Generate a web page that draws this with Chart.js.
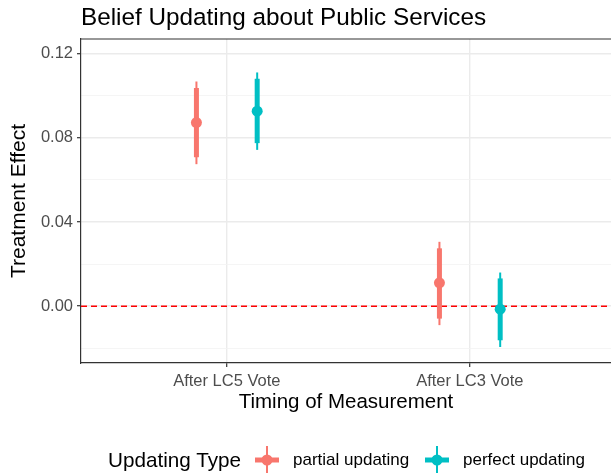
<!DOCTYPE html>
<html>
<head>
<meta charset="utf-8">
<script src="https://cdn.jsdelivr.net/npm/chart.js@4.4.1/dist/chart.umd.min.js"></script>
<style>
  body { margin: 0; background: #fff; }
  #wrap { position: relative; width: 611px; height: 473px; font-family: "Liberation Sans", Arial, sans-serif; }
  #chart { position: absolute; left: 0; top: 0; }
  .lg { position: absolute; line-height: 26px; top: 447px; white-space: nowrap; color: #000; }
  .key { position: absolute; top: 445px; }
</style>
</head>
<body>
<div id="wrap">
  <canvas id="chart" width="611" height="473"></canvas>
  <span class="lg" style="left:108px;font-size:20.7px">Updating Type</span>
  <canvas class="key" id="key0" width="30" height="30" style="left:252px"></canvas>
  <span class="lg" style="left:293px;font-size:17px">partial updating</span>
  <canvas class="key" id="key1" width="30" height="30" style="left:422px"></canvas>
  <span class="lg" style="left:463px;font-size:17px">perfect updating</span>
</div>
<script>
// data
const categories = ['After LC5 Vote', 'After LC3 Vote'];
const groups = ['partial updating', 'perfect updating'];
const groupColors = ['#F8766D', '#00BFC4'];

const partialEst  = [0.0873, 0.0111];
const partialLo90 = [0.0708, -0.0059];
const partialHi90 = [0.1037, 0.0275];
const partialLo95 = [0.0675, -0.0090];
const partialHi95 = [0.1068, 0.0306];

const perfectEst  = [0.0927, -0.0014];
const perfectLo90 = [0.0775, -0.0162];
const perfectHi90 = [0.1081, 0.0132];
const perfectLo95 = [0.0743, -0.0194];
const perfectHi95 = [0.1111, 0.0160];

const yTicks = [-0.02, 0.00, 0.02, 0.04, 0.06, 0.08, 0.10, 0.12];

const DODGE = 0.125;
const FONT = '"Liberation Sans", Arial, sans-serif';

const series = [
  { est: partialEst, lo90: partialLo90, hi90: partialHi90, lo95: partialLo95, hi95: partialHi95, shift: -DODGE },
  { est: perfectEst, lo90: perfectLo90, hi90: perfectHi90, lo95: perfectLo95, hi95: perfectHi95, shift: DODGE }
];

const isMajor = v => Math.round(v * 100) % 4 === 0;

// zero line, interval bars, panel top edge and plot title
const rangePlugin = {
  id: 'ranges',
  beforeDatasetsDraw(chart) {
    const { ctx, chartArea, scales: { x, y } } = chart;
    ctx.save();
    const y0 = y.getPixelForValue(0);
    ctx.beginPath();
    ctx.setLineDash([6, 4]);
    ctx.strokeStyle = '#FF0000';
    ctx.lineWidth = 1.5;
    ctx.moveTo(chartArea.left, y0);
    ctx.lineTo(chartArea.right, y0);
    ctx.stroke();
    ctx.setLineDash([]);

    series.forEach((s, g) => {
      ctx.strokeStyle = groupColors[g];
      s.est.forEach((v, i) => {
        const px = x.getPixelForValue(i + 1 + s.shift);
        ctx.lineWidth = 2;
        ctx.beginPath();
        ctx.moveTo(px, y.getPixelForValue(s.lo95[i]));
        ctx.lineTo(px, y.getPixelForValue(s.hi95[i]));
        ctx.stroke();
        ctx.lineWidth = 5;
        ctx.beginPath();
        ctx.moveTo(px, y.getPixelForValue(s.lo90[i]));
        ctx.lineTo(px, y.getPixelForValue(s.hi90[i]));
        ctx.stroke();
      });
    });
    ctx.restore();
  },
  afterDraw(chart) {
    const { ctx, chartArea } = chart;
    ctx.save();
    ctx.strokeStyle = '#333333';
    ctx.lineWidth = 1.2;
    ctx.beginPath();
    ctx.moveTo(chartArea.left, chartArea.top);
    ctx.lineTo(chartArea.right, chartArea.top);
    ctx.stroke();
    ctx.fillStyle = '#000';
    ctx.font = '24.3px ' + FONT;
    ctx.textBaseline = 'alphabetic';
    ctx.fillText('Belief Updating about Public Services', chartArea.left, 25);
    ctx.restore();
  }
};

new Chart(document.getElementById('chart'), {
  type: 'scatter',
  data: {
    datasets: series.map((s, g) => ({
      label: groups[g],
      data: s.est.map((v, i) => ({ x: i + 1 + s.shift, y: v })),
      backgroundColor: groupColors[g],
      borderWidth: 0,
      pointRadius: 5.5,
      pointHoverRadius: 5.5
    }))
  },
  options: {
    responsive: false,
    animation: false,
    layout: { autoPadding: false, padding: { top: 39, right: 0, bottom: 55, left: 0 } },
    plugins: { legend: { display: false }, tooltip: { enabled: false } },
    scales: {
      x: {
        type: 'linear',
        min: 0.4,
        max: 2.581,
        afterBuildTicks: s => { s.ticks = categories.map((c, i) => ({ value: i + 1 })); },
        afterFit: s => { s.height = 55; },
        ticks: {
          autoSkip: false,
          maxRotation: 0,
          padding: 5,
          color: '#4D4D4D',
          font: { family: FONT, size: 16.5 },
          callback: v => categories[v - 1] || ''
        },
        grid: { color: '#EBEBEB', lineWidth: 1.4, tickColor: '#333333', tickLength: 4, tickWidth: 1.2 },
        border: { color: '#333333', width: 1.2 },
        title: {
          display: true,
          text: 'Timing of Measurement',
          color: '#000',
          font: { family: FONT, size: 20.5 },
          padding: { top: 0, bottom: 3 }
        }
      },
      y: {
        min: -0.027,
        max: 0.127,
        afterBuildTicks: s => { s.ticks = yTicks.map(v => ({ value: v })); },
        afterFit: s => { s.width = 81; },
        ticks: {
          padding: 4,
          color: '#4D4D4D',
          font: { family: FONT, size: 16.5 },
          callback: v => isMajor(v) ? v.toFixed(2) : ''
        },
        grid: {
          color: c => isMajor(c.tick.value) ? '#EBEBEB' : '#F2F2F2',
          lineWidth: c => isMajor(c.tick.value) ? 1.4 : 0.8,
          tickColor: c => isMajor(c.tick.value) ? '#333333' : 'rgba(0,0,0,0)',
          tickLength: 4,
          tickWidth: 1.2
        },
        border: { color: '#333333', width: 1.2 },
        title: {
          display: true,
          text: 'Treatment Effect',
          color: '#000',
          font: { family: FONT, size: 21 },
          padding: { top: 7, bottom: 0 }
        }
      }
    }
  },
  plugins: [rangePlugin]
});

// legend keys
groupColors.forEach((col, g) => {
  const k = document.getElementById('key' + g).getContext('2d');
  k.strokeStyle = col;
  k.fillStyle = col;
  k.lineWidth = 2;
  k.beginPath(); k.moveTo(15, 1); k.lineTo(15, 29); k.stroke();
  k.lineWidth = 5;
  k.beginPath(); k.moveTo(3, 15); k.lineTo(27, 15); k.stroke();
  k.beginPath(); k.arc(15, 15, 5.5, 0, Math.PI * 2); k.fill();
});
</script>
</body>
</html>
